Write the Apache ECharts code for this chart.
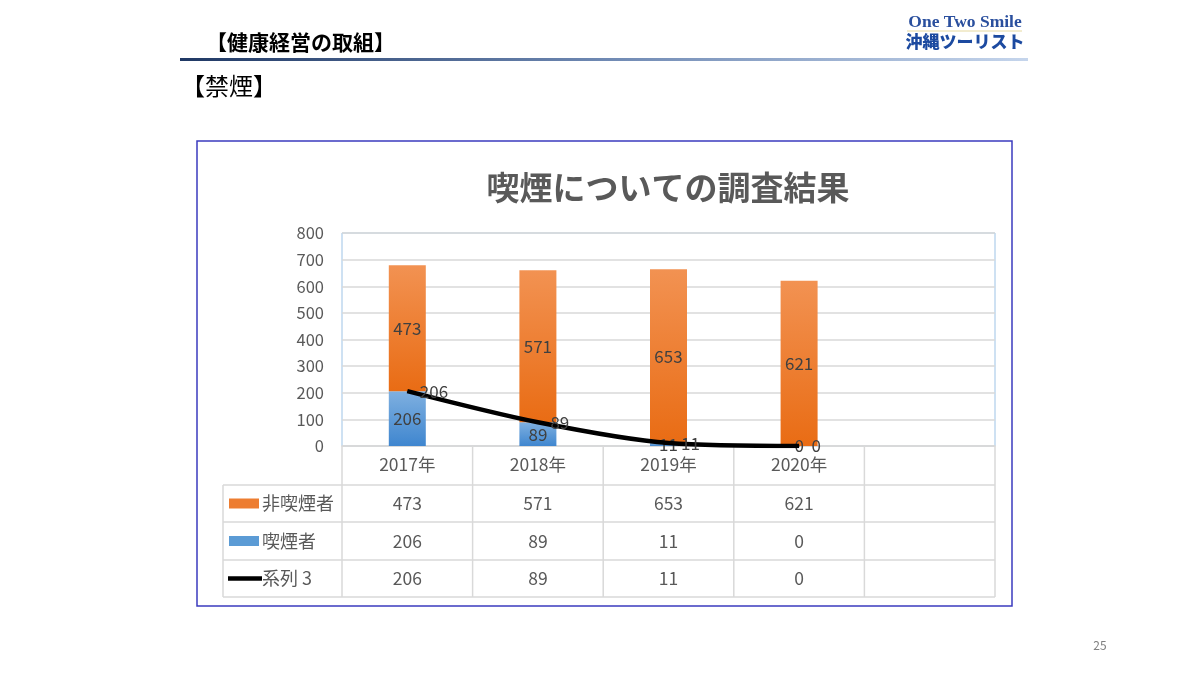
<!DOCTYPE html>
<html>
<head>
<meta charset="utf-8">
<script src="https://cdn.jsdelivr.net/npm/echarts@6.0.0/dist/echarts.min.js"></script>
<style>
html,body{margin:0;padding:0;background:#fff;}
#c{width:1200px;height:675px;}
</style>
</head>
<body>
<div id="c"></div>
<script>
const categories = ['2017年', '2018年', '2019年', '2020年'];
const nonSmokers = [473, 571, 653, 621];
const smokers = [206, 89, 11, 0];
const series3 = [206, 89, 11, 0];
const seriesNames = ['非喫煙者', '喫煙者', '系列 3'];
const yTicks = { min: 0, max: 800, interval: 100 };

const FONT = '"Noto Sans CJK JP", "Noto Sans", sans-serif';
const TXT = '#595959';
const LBL = '#404040';

const chart = echarts.init(document.getElementById('c'), null, { renderer: 'canvas' });

const axisCats = categories.concat(['']);

const option = {
  backgroundColor: '#ffffff',
  animation: false,
  textStyle: { fontFamily: FONT },
  title: {
    text: '喫煙についての調査結果',
    left: 663, top: 166, textAlign: 'center',
    textStyle: { fontFamily: FONT, fontSize: 33, fontWeight: 'bold', color: TXT }
  },
  grid: {
    left: 342, right: 205, top: 233, bottom: 229,
    show: true, borderColor: '#9dc3e6', borderWidth: 1, backgroundColor: 'transparent'
  },
  xAxis: {
    type: 'category',
    data: axisCats,
    boundaryGap: true,
    axisLine: { show: true, lineStyle: { color: '#d9d9d9', width: 1.5 } },
    axisTick: { show: false },
    axisLabel: { color: TXT, fontSize: 17.5, fontFamily: FONT, margin: 10 },
    splitLine: { show: false }
  },
  yAxis: {
    type: 'value',
    min: yTicks.min, max: yTicks.max, interval: yTicks.interval,
    axisLine: { show: false },
    axisTick: { show: false },
    axisLabel: { color: TXT, fontSize: 16.5, fontFamily: FONT, margin: 18 },
    splitLine: { lineStyle: { color: '#d9d9d9', width: 1.5 } }
  },
  series: [
    {
      name: seriesNames[1], type: 'bar', stack: 'a', barWidth: 37,
      data: smokers,
      itemStyle: {
        color: new echarts.graphic.LinearGradient(0, 0, 0, 1, [
          { offset: 0, color: '#7fb0e0' }, { offset: 1, color: '#3f86cf' }
        ])
      },
      label: { show: true, position: 'inside', color: LBL, fontSize: 17, fontFamily: FONT }
    },
    {
      name: seriesNames[0], type: 'bar', stack: 'a', barWidth: 37,
      data: nonSmokers,
      itemStyle: {
        color: new echarts.graphic.LinearGradient(0, 0, 0, 1, [
          { offset: 0, color: '#f29252' }, { offset: 1, color: '#e96c14' }
        ])
      },
      label: { show: true, position: 'inside', color: LBL, fontSize: 17, fontFamily: FONT }
    },
    {
      name: seriesNames[2], type: 'line', data: series3,
      smooth: 0.3, showSymbol: true, symbol: 'circle', symbolSize: 1,
      itemStyle: { color: '#000' },
      lineStyle: { color: '#000', width: 4.5 },
      label: { show: true, position: 'right', distance: 12, color: LBL, fontSize: 17, fontFamily: FONT },
      z: 5
    }
  ]
};
chart.setOption(option);

// Data table below the plot, positioned from the category axis scale
const c0 = chart.convertToPixel({ xAxisIndex: 0 }, 0);
const c1 = chart.convertToPixel({ xAxisIndex: 0 }, 1);
const band = c1 - c0;
const y0 = chart.convertToPixel({ yAxisIndex: 0 }, 0);
const bounds = [];
for (let i = 0; i <= axisCats.length; i++) bounds.push(c0 - band / 2 + i * band);
const tableLeft = 223;
const rowLines = [y0 + 39, y0 + 76, y0 + 114, y0 + 151];
const lineCol = '#d9d9d9';
const g = [];
// outer frame
g.push({ type: 'rect', shape: { x: 197, y: 141, width: 815, height: 465 }, style: { fill: 'none', stroke: '#3b3bbf', lineWidth: 1.5 }, z: 0 });
// verticals
bounds.forEach(x => g.push({ type: 'line', shape: { x1: x, y1: y0, x2: x, y2: rowLines[3] }, style: { stroke: lineCol, lineWidth: 1.5 } }));
g.push({ type: 'line', shape: { x1: tableLeft, y1: rowLines[0], x2: tableLeft, y2: rowLines[3] }, style: { stroke: lineCol, lineWidth: 1.5 } });
// horizontals
rowLines.forEach(y => g.push({ type: 'line', shape: { x1: tableLeft, y1: y, x2: bounds[bounds.length - 1], y2: y }, style: { stroke: lineCol, lineWidth: 1.5 } }));
// rows
const rows = [
  { name: seriesNames[0], vals: nonSmokers, icon: 'rect', color: '#ed7d31' },
  { name: seriesNames[1], vals: smokers, icon: 'rect', color: '#5b9bd5' },
  { name: seriesNames[2], vals: series3, icon: 'line', color: '#000' }
];
rows.forEach((r, ri) => {
  const top = rowLines[ri], bot = rowLines[ri + 1];
  const cy = (top + bot) / 2;
  if (r.icon === 'rect') {
    g.push({ type: 'rect', shape: { x: 229, y: cy - 5, width: 30, height: 10 }, style: { fill: r.color } });
  } else {
    g.push({ type: 'line', shape: { x1: 228, y1: cy, x2: 262, y2: cy }, style: { stroke: r.color, lineWidth: 4.5 } });
  }
  g.push({ type: 'text', x: 262, y: cy, style: { text: r.name, fill: TXT, font: '18px ' + FONT, verticalAlign: 'middle' } });
  r.vals.forEach((v, i) => {
    g.push({ type: 'text', x: c0 + i * band, y: cy, style: { text: String(v), fill: TXT, font: '17.5px ' + FONT, align: 'center', verticalAlign: 'middle' } });
  });
});
// page header
g.push({ type: 'text', x: 206, y: 42, style: { text: '【健康経営の取組】', fill: '#000', font: 'bold 21px ' + FONT, verticalAlign: 'middle' } });
g.push({ type: 'rect', shape: { x: 180, y: 58, width: 848, height: 3 }, style: { fill: new echarts.graphic.LinearGradient(0, 0, 1, 0, [
  { offset: 0, color: '#1f3864' }, { offset: 0.5, color: '#6f89b3' }, { offset: 1, color: '#c5d5ec' }
]) } });
g.push({ type: 'text', x: 181, y: 86, style: { text: '【禁煙】', fill: '#000', font: '24px ' + FONT, verticalAlign: 'middle' } });
g.push({ type: 'text', x: 965, y: 22, style: { text: 'One Two Smile', fill: '#2a4f9e', font: 'bold 17.5px "Liberation Serif", "DejaVu Serif", serif', align: 'center', verticalAlign: 'middle' } });
g.push({ type: 'line', shape: { x1: 907, y1: 31, x2: 1022, y2: 31 }, style: { stroke: '#e6d9a0', lineWidth: 1 } });
g.push({ type: 'text', x: 965, y: 42, style: { text: '沖縄ツーリスト', fill: '#1c4aa0', font: '900 17px ' + FONT, align: 'center', verticalAlign: 'middle' } });
g.push({ type: 'text', x: 1100, y: 645, style: { text: '25', fill: '#808080', font: '12px ' + FONT, align: 'center', verticalAlign: 'middle' } });

chart.setOption({ graphic: { elements: g } });
</script>
</body>
</html>
